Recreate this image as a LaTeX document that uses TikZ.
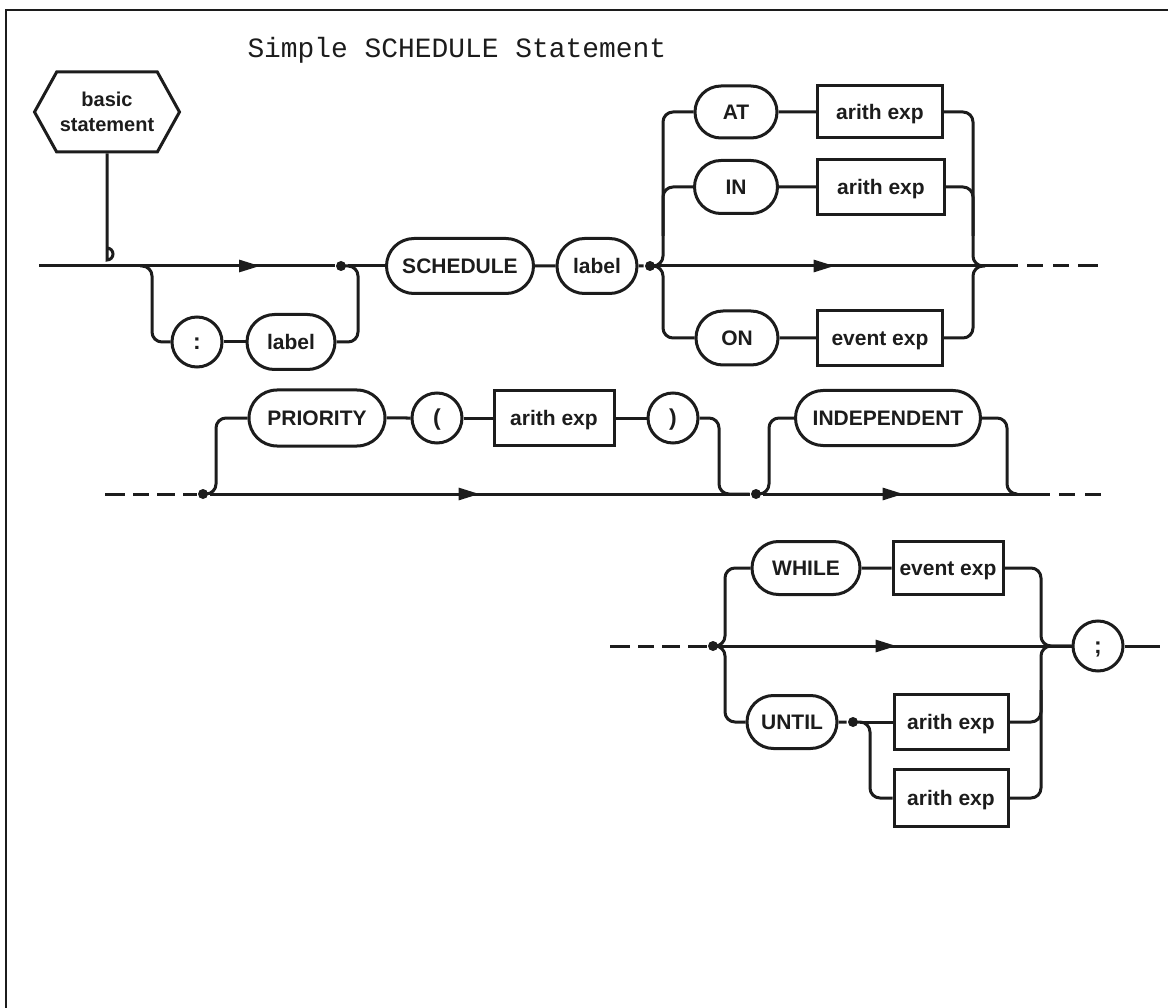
\documentclass[tikz,border=0pt]{standalone}
\usepackage{fontspec}
\usepackage{xcolor}
\usetikzlibrary{shapes.misc,shapes.symbols,arrows.meta,decorations.markings}
\newfontfamily\chartfont{Liberation Sans}
\newfontfamily\chartmono{Liberation Mono}
\definecolor{chartink}{HTML}{1C1C1C}

\begin{document}
\begin{tikzpicture}[x=1pt, y=-1pt, line width=3pt, color=chartink,
  every node/.style={font=\chartfont\bfseries\fontsize{21}{25}\selectfont, inner sep=0pt},
  term/.style={draw, rounded rectangle, minimum height=55pt, text height=15pt, text depth=0pt},
  sym/.style={draw, circle, minimum size=50pt, text height=15pt, text depth=0pt,
    font=\chartfont\bfseries\fontsize{23}{26}\selectfont},
  nonterm/.style={draw, rectangle, minimum height=55pt, text height=15pt, text depth=0pt},
  entrybox/.style={draw, signal, signal to=west and east, signal pointer angle=122,
    minimum width=145pt, minimum height=80pt, align=center,
    font=\chartfont\bfseries\fontsize{20}{25}\selectfont},
  junction/.style={circle, fill, minimum size=10pt},
  flowarrow/.style={postaction={decorate}, decoration={markings,
    mark=at position #1 with {\arrow{Triangle[length=21pt, width=12pt]}}}},
  branch/.style={rounded corners=10pt},
  lead/.style={dash pattern=on 20pt off 8pt on 16pt off 8pt on 18pt off 8pt on 80pt off 1pt},
  trail/.style={dash pattern=on 33pt off 9pt on 16pt off 10pt on 16pt off 9pt on 20pt off 100pt}]

  \useasboundingbox (0,0) rectangle (1168,1008);

  %% page frame and title
  \draw[line width=2.5pt] (6,1008) -- (6,10) -- (1168,10);
  \node[anchor=base west, font=\chartmono\fontsize{27.9}{32}\selectfont] (title) at (246,58) {Simple SCHEDULE Statement};

  %% Row 1: optional label, SCHEDULE label, AT / IN / ON
  \node[entrybox] (basic) at (107,112) {basic\\statement};
  \coordinate (entry) at (39,266);
  \coordinate (loopIn) at (140,266);
  \node[junction] (j1) at (341,266) {};
  \node[sym] (colon) at (197,342) {:};
  \node[term, minimum width=88pt] (labA) at (291,342) {label};
  \node[term, minimum width=147pt] (sched) at (460,266) {SCHEDULE};
  \node[term, minimum width=80pt] (labB) at (597,266) {label};
  \node[junction] (j2) at (650,266) {};
  \coordinate (forkA) at (663,266);
  \node[term, minimum width=82pt, minimum height=52pt] (atkey) at (736,112) {AT};
  \node[term, minimum width=83pt, minimum height=53pt] (inkey) at (736,187) {IN};
  \node[term, minimum width=82pt, minimum height=54pt] (onkey) at (737,338) {ON};
  \node[nonterm, minimum width=125pt, minimum height=52pt] (atexp) at (880,112) {arith exp};
  \node[nonterm, minimum width=127pt] (inexp) at (881,187) {arith exp};
  \node[nonterm, minimum width=125pt] (onexp) at (880,338) {event exp};
  \coordinate (joinA) at (973,266);
  \coordinate (mergeA) at (985,266);
  \coordinate (endA) at (1098,266);

  \draw (basic.south) -- (107,260) arc[start angle=90, end angle=-90, radius=6];
  \draw[flowarrow=221pt] (entry) -- (j1);
  \draw[branch] (loopIn) -- ++(12,0) |- (colon.west);
  \draw[branch] (j1.center) -- ++(17,0) |- (labA.east);
  \draw (colon) -- (labA);
  \draw (j1) -- (sched);
  \draw (sched) -- (labB);
  \draw (labB) -- (j2);
  \draw[branch] (j2.center) -- (forkA) |- (atkey.west);
  \draw[branch] (j2.center) -- (forkA) |- (onkey.west);
  \draw[branch] (inkey.west) -| ([yshift=30pt]forkA);
  \draw (atkey) -- (atexp);
  \draw (inkey) -- (inexp);
  \draw (onkey) -- (onexp);
  \draw[branch] (atexp.east) -| (joinA) -- (mergeA);
  \draw[branch] (onexp.east) -| (joinA) -- (mergeA);
  \draw[branch] (inexp.east) -| ([yshift=30pt]joinA);
  \draw[flowarrow=178pt] (j2) -- (mergeA);
  \draw[trail] (mergeA) -- (endA);

  %% Row 2: PRIORITY ( arith exp ), INDEPENDENT
  \coordinate (leadB) at (105,494);
  \node[junction] (j3) at (203,494) {};
  \node[term, minimum width=136pt, minimum height=56pt] (prio) at (317,418) {PRIORITY};
  \node[sym] (lpar) at (437,418) {(};
  \node[nonterm, minimum width=120pt] (prioexp) at (554,418) {arith exp};
  \node[sym] (rpar) at (673,418) {)};
  \node[junction] (j4) at (756,494) {};
  \node[term, minimum width=185pt] (indep) at (888,418) {INDEPENDENT};
  \coordinate (mergeB) at (1017,494);
  \coordinate (endB) at (1101,494);

  \draw[lead] (leadB) -- (j3);
  \draw[branch] (j3.center) -- ++(13,0) |- (prio.west);
  \draw (prio) -- (lpar);
  \draw (lpar) -- (prioexp);
  \draw (prioexp) -- (rpar);
  \draw[branch] (rpar.east) -| ([xshift=-37pt]j4.center) -- (j4);
  \draw[flowarrow=270pt] (j3) -- (j4);
  \draw[branch] (j4.center) -- ++(13,0) |- (indep.west);
  \draw[branch] (indep.east) -| ([xshift=-10pt]mergeB) -- (mergeB);
  \draw[flowarrow=141pt] (j4) -- (mergeB);
  \draw[trail] (mergeB) -- (endB);

  %% Row 3: WHILE / UNTIL and the closing semicolon
  \coordinate (leadC) at (610,646);
  \node[junction] (j5) at (713,646) {};
  \node[term, minimum width=108pt, minimum height=53pt] (whilekey) at (806,568) {WHILE};
  \node[nonterm, minimum width=110pt, minimum height=53pt] (whileexp) at (948,568) {event exp};
  \node[term, minimum width=90pt, minimum height=53pt] (untilkey) at (792,722) {UNTIL};
  \node[junction] (j6) at (853,722) {};
  \node[nonterm, minimum width=114pt] (untilexpA) at (951,722) {arith exp};
  \node[nonterm, minimum width=114pt, minimum height=57pt] (untilexpB) at (951,798) {arith exp};
  \coordinate (joinC) at (1041,646);
  \node[sym] (semi) at (1098,646) {;};
  \coordinate (endC) at (1160,646);

  \draw[lead] (leadC) -- (j5);
  \draw[branch] (j5.center) -- ++(12,0) |- (whilekey.west);
  \draw[branch] (j5.center) -- ++(12,0) |- (untilkey.west);
  \draw (whilekey) -- (whileexp);
  \draw (untilkey) -- (j6);
  \draw (j6) -- (untilexpA);
  \draw[branch] (j6.center) -- ++(17,0) |- (untilexpB.west);
  \draw[branch] (whileexp.east) -| (joinC) -- (semi.west);
  \draw[branch] (untilexpB.east) -| (joinC) -- (semi.west);
  \draw[branch] (untilexpA.east) -| ([yshift=-44pt]joinC);
  \draw[flowarrow=177pt] (j5) -- (semi);
  \draw (semi) -- (endC);

\end{tikzpicture}
\end{document}
